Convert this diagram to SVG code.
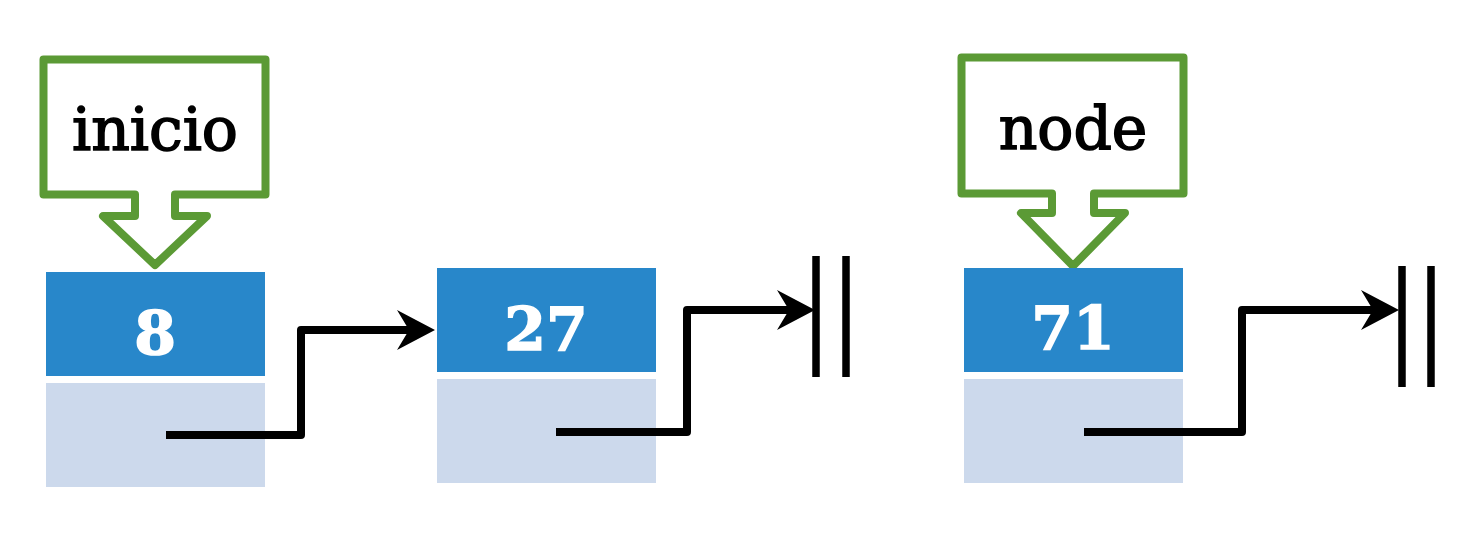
<svg xmlns="http://www.w3.org/2000/svg" width="1482" height="540" viewBox="0 0 1482 540">
<style>
.bg{fill:#ffffff}
.callout{fill:#ffffff;stroke:#5B9A35;stroke-width:8;stroke-linejoin:round}
.label{font-family:"DejaVu Serif","Liberation Serif",serif;font-size:60px;fill:#000000;stroke:#000000;stroke-width:1.6;text-anchor:middle}
.data{fill:#2887CA}
.next{fill:#CCD9EC}
.num{font-family:"DejaVu Serif","Liberation Serif",serif;font-size:60px;font-weight:bold;fill:#ffffff;stroke:#ffffff;stroke-width:1.5;text-anchor:middle}
.link{fill:none;stroke:#000000;stroke-width:8;stroke-linejoin:round;stroke-linecap:butt}
.null{stroke:#000000;stroke-width:7.5}
</style>
<defs>
<marker id="arrow" markerUnits="userSpaceOnUse" viewBox="0 0 38 40" markerWidth="38" markerHeight="40" refX="12" refY="20" orient="auto">
<path d="M38,20 L0,0 L12,20 L0,40 Z" fill="#000000"/>
</marker>
</defs>
<rect class="bg" x="0" y="0" width="1482" height="540"/>

<g id="callout-inicio">
<path class="callout" d="M43.5,59.5 H265.5 V194.5 H175 V216 H207 L155,265 L103,216 H135 V194.5 H43.5 Z"/>
<text class="label" x="155" y="150">inicio</text>
</g>

<g id="callout-node">
<path class="callout" d="M961.5,57.5 H1183.5 V193.5 H1094 V213 H1125 L1073,266 L1021,213 H1052 V193.5 H961.5 Z"/>
<text class="label" x="1073" y="149">node</text>
</g>

<g id="node-8">
<rect class="data" x="46" y="272" width="219" height="104"/>
<rect class="next" x="46" y="383" width="219" height="104"/>
<text class="num" x="155" y="354">8</text>
</g>

<g id="node-27">
<rect class="data" x="437" y="268" width="219" height="104"/>
<rect class="next" x="437" y="379" width="219" height="104"/>
<text class="num" x="546" y="350">27</text>
</g>

<g id="node-71">
<rect class="data" x="964" y="268" width="219" height="104"/>
<rect class="next" x="964" y="379" width="219" height="104"/>
<text class="num" x="1073" y="349">71</text>
</g>

<g id="null-1">
<line class="null" x1="816" y1="256" x2="816" y2="377"/>
<line class="null" x1="846" y1="256" x2="846" y2="377"/>
</g>

<g id="null-2">
<line class="null" x1="1402" y1="266" x2="1402" y2="387"/>
<line class="null" x1="1431" y1="266" x2="1431" y2="387"/>
</g>

<g id="connectors">
<path class="link" d="M166,435 H301 V330 H409" marker-end="url(#arrow)"/>
<path class="link" d="M556,432 H687 V310 H789" marker-end="url(#arrow)"/>
<path class="link" d="M1084,432 H1242 V310 H1373" marker-end="url(#arrow)"/>
</g>
</svg>
